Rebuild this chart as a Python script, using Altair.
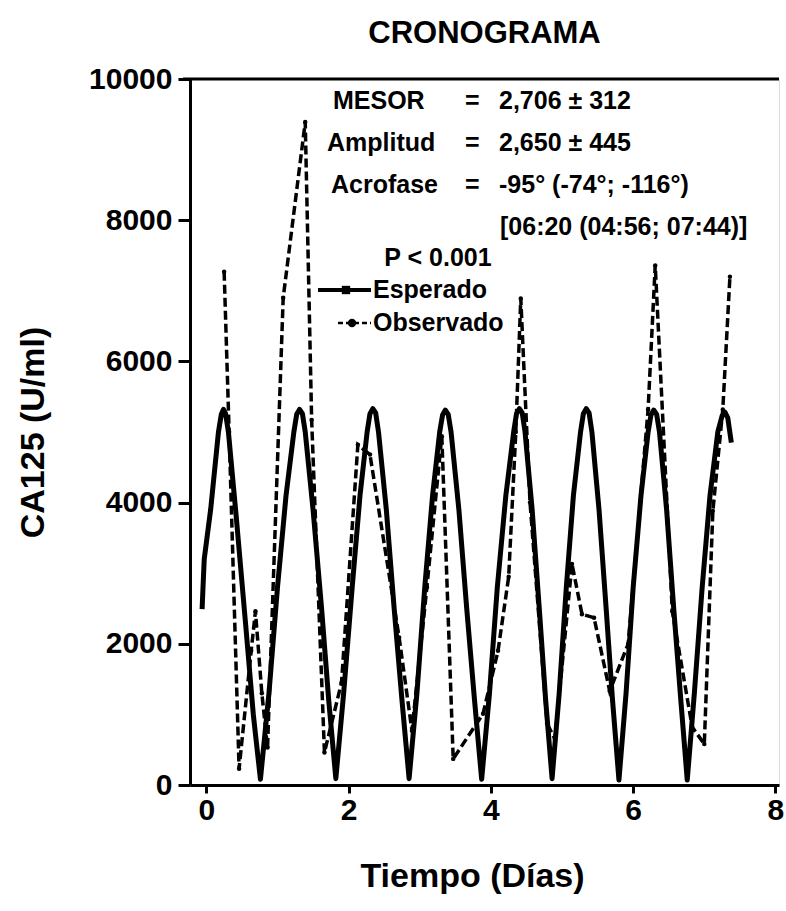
import altair as alt
import pandas as pd

# ---------------- data ----------------
esp_t = [-0.06, -0.03, 0.06, 0.17, 0.21, 0.24, 0.27, 0.31, 0.42, 0.55, 0.66, 0.76,
         0.88, 1.00, 1.12, 1.23, 1.27, 1.31, 1.35, 1.39, 1.50, 1.62, 1.72, 1.82,
         1.93, 2.05, 2.16, 2.26, 2.30, 2.34, 2.38, 2.42, 2.53, 2.64, 2.75, 2.85,
         2.96, 3.07, 3.18, 3.28, 3.32, 3.36, 3.40, 3.44, 3.55, 3.66, 3.77, 3.87,
         3.98, 4.09, 4.21, 4.32, 4.36, 4.40, 4.44, 4.48, 4.58, 4.68, 4.77, 4.86,
         4.96, 5.06, 5.16, 5.26, 5.30, 5.34, 5.38, 5.42, 5.52, 5.62, 5.71, 5.80,
         5.90, 6.00, 6.11, 6.21, 6.25, 6.29, 6.33, 6.37, 6.47, 6.57, 6.67, 6.76,
         6.86, 6.97, 7.08, 7.19, 7.25, 7.29, 7.33, 7.38]
esp_v = [2490, 3200, 3900, 5000, 5250, 5320, 5260, 5000, 3800, 2300, 1000, 80,
         1300, 2800, 4100, 5000, 5250, 5320, 5260, 5000, 3900, 2500, 1200, 90,
         1300, 2800, 4100, 5000, 5260, 5330, 5270, 5000, 3900, 2500, 1200, 90,
         1300, 2800, 4100, 5000, 5240, 5310, 5250, 5000, 3900, 2500, 1200, 80,
         1300, 2800, 4100, 5000, 5260, 5330, 5270, 5000, 3900, 2500, 1200, 90,
         1300, 2800, 4100, 5000, 5260, 5330, 5270, 5000, 3900, 2500, 1200, 70,
         1300, 2800, 4100, 5000, 5240, 5310, 5250, 5000, 3900, 2500, 1200, 70,
         1300, 2800, 4100, 5000, 5230, 5280, 5200, 4850]

obs_t = [0.25, 0.32, 0.46, 0.63, 0.69, 0.78, 0.86, 1.08, 1.39, 1.48,
         1.66, 1.90, 2.13, 2.30, 2.71, 2.89, 3.10, 3.31, 3.47, 3.89,
         4.10, 4.25, 4.35, 4.42, 4.55, 4.79, 4.90, 5.14, 5.28, 5.45,
         5.67, 5.93, 6.21, 6.31, 6.55, 6.83, 7.00, 7.12, 7.26, 7.36]
obs_v = [7270, 5000, 230, 1900, 2460, 1300, 530, 6900, 9390, 5170,
         460, 1450, 4820, 4680, 2090, 770, 2800, 4940, 370, 1010,
         1900, 2950, 5000, 6890, 4000, 870, 650, 3130, 2420, 2370,
         1330, 2000, 5320, 7360, 2460, 820, 580, 3880, 5320, 7200]

x_ticks = [0, 2, 4, 6, 8]
y_ticks = [0, 2000, 4000, 6000, 8000, 10000]

stats_labels = ["MESOR", "Amplitud", "Acrofase"]
stats_values = ["2,706 \u00b1 312", "2,650 \u00b1 445", "-95\u00b0 (-74\u00b0; -116\u00b0)"]
acro_hours = "[06:20 (04:56; 07:44)]"
p_text = "P < 0.001"
legend_names = ["Esperado", "Observado"]

# ---------------- layout constants ----------------
PL, PT = 190, 79          # plot-area origin inside the page
W, H = 589, 706
FONT = "Liberation Sans"

df_e = pd.DataFrame({"t": esp_t, "v": esp_v})
df_o = pd.DataFrame({"t": obs_t, "v": obs_v})

xscale = alt.Scale(domain=[-0.23, 8.05], nice=False, zero=False)
yscale = alt.Scale(domain=[0, 10000], nice=False)

common = dict(grid=False, format="d", labelFont=FONT, titleFont=FONT,
              labelFontWeight="bold", titleFontWeight="bold",
              labelColor="black", titleColor="black",
              domainColor="black", domainWidth=3, tickColor="black", tickWidth=3)

xaxis = alt.Axis(values=x_ticks, title="Tiempo (D\u00edas)",
                 titleX=282, titlePadding=34, labelPadding=2, tickSize=8,
                 titleFontSize=34, labelFontSize=30, **common)
yaxis = alt.Axis(values=y_ticks, title="CA125 (U/ml)",
                 titleX=-157, titleY=353, titleAngle=-90, titleBaseline="middle",
                 titleAlign="center", labelPadding=6, tickSize=12,
                 titleFontSize=34, labelFontSize=30, **common)

esp = alt.Chart(df_e).mark_line(color="black", strokeWidth=5, strokeJoin="round").encode(
    x=alt.X("t:Q", scale=xscale, axis=xaxis),
    y=alt.Y("v:Q", scale=yscale, axis=yaxis),
    order="t:Q")

obs = alt.Chart(df_o).mark_line(color="black", strokeWidth=3.5, strokeDash=[9, 4],
                                 point=alt.OverlayMarkDef(size=20, filled=True, color="black")).encode(
    x="t:Q", y="v:Q", order="t:Q")

top = alt.Chart(pd.DataFrame({"v": [10000]})).mark_rule(color="black", strokeWidth=3).encode(
    y="v:Q", x=alt.value(-7), x2=alt.value(W))


def txt(s, px, py, size=25, align="left"):
    return alt.Chart(pd.DataFrame({"s": [s]})).mark_text(
        font=FONT, fontWeight="bold", fontSize=size, align=align, baseline="middle",
        color="black").encode(text="s:N", x=alt.value(px - PL), y=alt.value(py - PT))


texts = []
rows_y = [101, 143, 185]
lab_x = [333, 327, 331]
for lab, val, yy, lx in zip(stats_labels, stats_values, rows_y, lab_x):
    texts.append(txt(lab, lx, yy))
    texts.append(txt("=", 465, yy))
    texts.append(txt(val, 499, yy))
texts.append(txt(acro_hours, 500, 227))
texts.append(txt(p_text, 438, 258, align="center"))
texts.append(txt(legend_names[0], 373, 290))
texts.append(txt(legend_names[1], 373, 323))

# legend glyphs
leg_e_line = alt.Chart(pd.DataFrame({"a": [0]})).mark_rule(color="black", strokeWidth=4).encode(
    x=alt.value(318 - PL), x2=alt.value(371 - PL), y=alt.value(290 - PT))
leg_e_pt = alt.Chart(pd.DataFrame({"a": [0]})).mark_point(shape="square", filled=True, size=70,
                                                           color="black", opacity=1).encode(
    x=alt.value(346 - PL), y=alt.value(290 - PT))
leg_o_line = alt.Chart(pd.DataFrame({"a": [0]})).mark_rule(color="black", strokeWidth=2.5,
                                                            strokeDash=[5, 3]).encode(
    x=alt.value(338 - PL), x2=alt.value(371 - PL), y=alt.value(323 - PT))
leg_o_pt = alt.Chart(pd.DataFrame({"a": [0]})).mark_point(shape="circle", filled=True, size=70,
                                                           color="black", opacity=1).encode(
    x=alt.value(352 - PL), y=alt.value(323 - PT))

chart = alt.layer(top, obs, esp, leg_e_line, leg_e_pt, leg_o_line, leg_o_pt, *texts).properties(
    width=W, height=H,
    title=alt.TitleParams("CRONOGRAMA", font=FONT, fontWeight="bold", fontSize=31,
                          color="black", anchor="middle", offset=14),
    padding={"left": PL, "top": PT, "right": 786 - PL - W, "bottom": 911 - PT - H},
    autosize=alt.AutoSizeParams(type="none"),
).configure_view(stroke=None).configure(background="white")

chart.save("out.html", embed_options={"renderer": "svg", "actions": False})
